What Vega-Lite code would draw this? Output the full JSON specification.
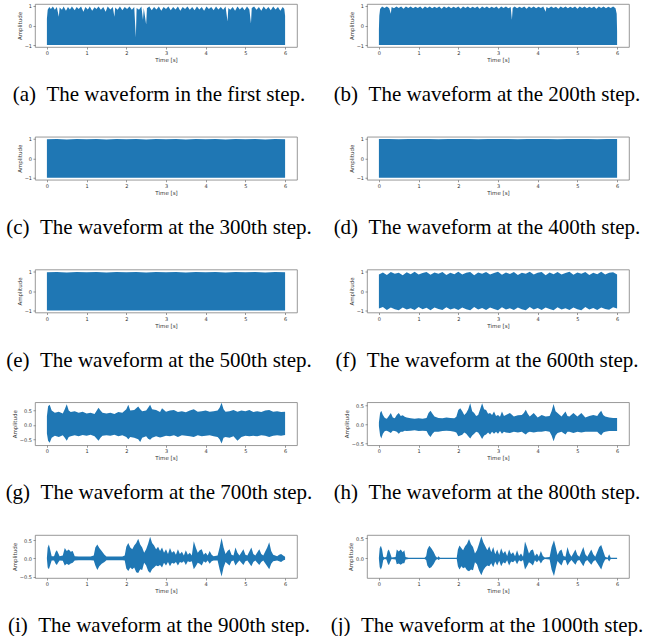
{
"$schema":"https://vega.github.io/schema/vega-lite/v6.json",
"padding":{"left":5,"top":3,"right":0,"bottom":0},
"background":"white",
"config":{
 "view":{"stroke":"#7f7f7f","strokeWidth":0.8},
 "axis":{"labelFontSize":5,"titleFontSize":5.5,"labelColor":"#333","titleColor":"#333","tickColor":"#555","tickSize":2,"tickWidth":0.6,"domain":false,"grid":false,"labelFont":"DejaVu Sans","titleFont":"DejaVu Sans","titleFontWeight":"normal","labelPadding":1.5,"titlePadding":2},
 "title":{"font":"Liberation Serif","fontSize":21,"fontWeight":"normal","color":"#000","orient":"bottom","frame":"group","anchor":"middle","offset":21,"limit":0},
 "area":{"color":"#1f77b4","strokeWidth":0,"clip":true}
},
"datasets":{"w":[
{"p":"a","t":0,"hi":0.35,"lo":-1},{"p":"a","t":0.02,"hi":0.8,"lo":-1},{"p":"a","t":0.06,"hi":0.95,"lo":-1},{"p":"a","t":0.1,"hi":0.85,"lo":-1},{"p":"a","t":0.15,"hi":0.97,"lo":-1},{"p":"a","t":0.2,"hi":0.8,"lo":-1},{"p":"a","t":0.25,"hi":0.95,"lo":-1},{"p":"a","t":0.3,"hi":0.45,"lo":-1},{"p":"a","t":0.32,"hi":0.92,"lo":-1},{"p":"a","t":0.38,"hi":0.8,"lo":-1},{"p":"a","t":0.42,"hi":0.97,"lo":-1},{"p":"a","t":0.48,"hi":0.75,"lo":-1},{"p":"a","t":0.53,"hi":0.95,"lo":-1},{"p":"a","t":0.58,"hi":0.82,"lo":-1},{"p":"a","t":0.63,"hi":0.97,"lo":-1},{"p":"a","t":0.7,"hi":0.78,"lo":-1},{"p":"a","t":0.75,"hi":0.95,"lo":-1},{"p":"a","t":0.8,"hi":0.85,"lo":-1},{"p":"a","t":0.86,"hi":0.97,"lo":-1},{"p":"a","t":0.92,"hi":0.7,"lo":-1},{"p":"a","t":0.97,"hi":0.95,"lo":-1},{"p":"a","t":1.03,"hi":0.82,"lo":-1},{"p":"a","t":1.08,"hi":0.97,"lo":-1},{"p":"a","t":1.14,"hi":0.75,"lo":-1},{"p":"a","t":1.2,"hi":0.93,"lo":-1},{"p":"a","t":1.25,"hi":0.85,"lo":-1},{"p":"a","t":1.3,"hi":0.97,"lo":-1},{"p":"a","t":1.36,"hi":0.8,"lo":-1},{"p":"a","t":1.42,"hi":0.95,"lo":-1},{"p":"a","t":1.48,"hi":0.7,"lo":-1},{"p":"a","t":1.53,"hi":0.97,"lo":-1},{"p":"a","t":1.6,"hi":0.82,"lo":-1},{"p":"a","t":1.66,"hi":0.95,"lo":-1},{"p":"a","t":1.7,"hi":0.45,"lo":-1},{"p":"a","t":1.72,"hi":0.92,"lo":-1},{"p":"a","t":1.78,"hi":0.8,"lo":-1},{"p":"a","t":1.84,"hi":0.97,"lo":-1},{"p":"a","t":1.9,"hi":0.78,"lo":-1},{"p":"a","t":1.96,"hi":0.95,"lo":-1},{"p":"a","t":2.02,"hi":0.85,"lo":-1},{"p":"a","t":2.08,"hi":0.97,"lo":-1},{"p":"a","t":2.14,"hi":0.8,"lo":-1},{"p":"a","t":2.2,"hi":0.95,"lo":-1},{"p":"a","t":2.24,"hi":-0.6,"lo":-1},{"p":"a","t":2.26,"hi":0.9,"lo":-1},{"p":"a","t":2.32,"hi":0.8,"lo":-1},{"p":"a","t":2.38,"hi":0.97,"lo":-1},{"p":"a","t":2.42,"hi":0.3,"lo":-1},{"p":"a","t":2.44,"hi":0.9,"lo":-1},{"p":"a","t":2.5,"hi":0.05,"lo":-1},{"p":"a","t":2.52,"hi":0.88,"lo":-1},{"p":"a","t":2.58,"hi":0.97,"lo":-1},{"p":"a","t":2.64,"hi":0.78,"lo":-1},{"p":"a","t":2.7,"hi":0.95,"lo":-1},{"p":"a","t":2.76,"hi":0.82,"lo":-1},{"p":"a","t":2.82,"hi":0.97,"lo":-1},{"p":"a","t":2.88,"hi":0.75,"lo":-1},{"p":"a","t":2.94,"hi":0.95,"lo":-1},{"p":"a","t":3.0,"hi":0.85,"lo":-1},{"p":"a","t":3.06,"hi":0.97,"lo":-1},{"p":"a","t":3.12,"hi":0.78,"lo":-1},{"p":"a","t":3.18,"hi":0.95,"lo":-1},{"p":"a","t":3.24,"hi":0.82,"lo":-1},{"p":"a","t":3.3,"hi":0.97,"lo":-1},{"p":"a","t":3.36,"hi":0.75,"lo":-1},{"p":"a","t":3.42,"hi":0.95,"lo":-1},{"p":"a","t":3.48,"hi":0.85,"lo":-1},{"p":"a","t":3.54,"hi":0.97,"lo":-1},{"p":"a","t":3.6,"hi":0.8,"lo":-1},{"p":"a","t":3.66,"hi":0.95,"lo":-1},{"p":"a","t":3.72,"hi":0.78,"lo":-1},{"p":"a","t":3.78,"hi":0.97,"lo":-1},{"p":"a","t":3.84,"hi":0.82,"lo":-1},{"p":"a","t":3.9,"hi":0.95,"lo":-1},{"p":"a","t":3.96,"hi":0.75,"lo":-1},{"p":"a","t":4.02,"hi":0.97,"lo":-1},{"p":"a","t":4.08,"hi":0.85,"lo":-1},{"p":"a","t":4.14,"hi":0.95,"lo":-1},{"p":"a","t":4.2,"hi":0.78,"lo":-1},{"p":"a","t":4.26,"hi":0.97,"lo":-1},{"p":"a","t":4.32,"hi":0.82,"lo":-1},{"p":"a","t":4.38,"hi":0.95,"lo":-1},{"p":"a","t":4.44,"hi":0.8,"lo":-1},{"p":"a","t":4.5,"hi":0.97,"lo":-1},{"p":"a","t":4.55,"hi":0.2,"lo":-1},{"p":"a","t":4.57,"hi":0.9,"lo":-1},{"p":"a","t":4.62,"hi":0.8,"lo":-1},{"p":"a","t":4.68,"hi":0.95,"lo":-1},{"p":"a","t":4.74,"hi":0.75,"lo":-1},{"p":"a","t":4.8,"hi":0.97,"lo":-1},{"p":"a","t":4.86,"hi":0.82,"lo":-1},{"p":"a","t":4.92,"hi":0.95,"lo":-1},{"p":"a","t":4.98,"hi":0.78,"lo":-1},{"p":"a","t":5.04,"hi":0.97,"lo":-1},{"p":"a","t":5.1,"hi":0.82,"lo":-1},{"p":"a","t":5.14,"hi":0.1,"lo":-1},{"p":"a","t":5.16,"hi":0.9,"lo":-1},{"p":"a","t":5.22,"hi":0.97,"lo":-1},{"p":"a","t":5.28,"hi":0.8,"lo":-1},{"p":"a","t":5.34,"hi":0.95,"lo":-1},{"p":"a","t":5.4,"hi":0.75,"lo":-1},{"p":"a","t":5.46,"hi":0.97,"lo":-1},{"p":"a","t":5.52,"hi":0.82,"lo":-1},{"p":"a","t":5.58,"hi":0.95,"lo":-1},{"p":"a","t":5.64,"hi":0.78,"lo":-1},{"p":"a","t":5.7,"hi":0.97,"lo":-1},{"p":"a","t":5.76,"hi":0.82,"lo":-1},{"p":"a","t":5.82,"hi":0.95,"lo":-1},{"p":"a","t":5.88,"hi":0.75,"lo":-1},{"p":"a","t":5.94,"hi":0.95,"lo":-1},{"p":"a","t":5.98,"hi":0.85,"lo":-1},{"p":"a","t":6.0,"hi":0.5,"lo":-1},
{"p":"b","t":0,"hi":-0.2,"lo":-1},{"p":"b","t":0.01,"hi":0.5,"lo":-1},{"p":"b","t":0.03,"hi":0.85,"lo":-1},{"p":"b","t":0.08,"hi":0.97,"lo":-1},{"p":"b","t":0.14,"hi":0.9,"lo":-1},{"p":"b","t":0.2,"hi":0.97,"lo":-1},{"p":"b","t":0.26,"hi":0.88,"lo":-1},{"p":"b","t":0.3,"hi":0.6,"lo":-1},{"p":"b","t":0.32,"hi":0.95,"lo":-1},{"p":"b","t":0.38,"hi":0.88,"lo":-1},{"p":"b","t":0.44,"hi":0.97,"lo":-1},{"p":"b","t":0.5,"hi":0.9,"lo":-1},{"p":"b","t":0.56,"hi":0.97,"lo":-1},{"p":"b","t":0.62,"hi":0.86,"lo":-1},{"p":"b","t":0.68,"hi":0.97,"lo":-1},{"p":"b","t":0.74,"hi":0.9,"lo":-1},{"p":"b","t":0.8,"hi":0.97,"lo":-1},{"p":"b","t":0.86,"hi":0.88,"lo":-1},{"p":"b","t":0.92,"hi":0.96,"lo":-1},{"p":"b","t":0.98,"hi":0.9,"lo":-1},{"p":"b","t":1.04,"hi":0.97,"lo":-1},{"p":"b","t":1.1,"hi":0.86,"lo":-1},{"p":"b","t":1.16,"hi":0.97,"lo":-1},{"p":"b","t":1.22,"hi":0.9,"lo":-1},{"p":"b","t":1.28,"hi":0.97,"lo":-1},{"p":"b","t":1.34,"hi":0.88,"lo":-1},{"p":"b","t":1.4,"hi":0.96,"lo":-1},{"p":"b","t":1.46,"hi":0.9,"lo":-1},{"p":"b","t":1.52,"hi":0.97,"lo":-1},{"p":"b","t":1.58,"hi":0.86,"lo":-1},{"p":"b","t":1.64,"hi":0.97,"lo":-1},{"p":"b","t":1.7,"hi":0.9,"lo":-1},{"p":"b","t":1.76,"hi":0.97,"lo":-1},{"p":"b","t":1.82,"hi":0.88,"lo":-1},{"p":"b","t":1.88,"hi":0.96,"lo":-1},{"p":"b","t":1.94,"hi":0.9,"lo":-1},{"p":"b","t":2.0,"hi":0.97,"lo":-1},{"p":"b","t":2.06,"hi":0.86,"lo":-1},{"p":"b","t":2.12,"hi":0.97,"lo":-1},{"p":"b","t":2.18,"hi":0.9,"lo":-1},{"p":"b","t":2.24,"hi":0.97,"lo":-1},{"p":"b","t":2.3,"hi":0.88,"lo":-1},{"p":"b","t":2.36,"hi":0.96,"lo":-1},{"p":"b","t":2.42,"hi":0.9,"lo":-1},{"p":"b","t":2.48,"hi":0.97,"lo":-1},{"p":"b","t":2.54,"hi":0.86,"lo":-1},{"p":"b","t":2.6,"hi":0.97,"lo":-1},{"p":"b","t":2.66,"hi":0.9,"lo":-1},{"p":"b","t":2.72,"hi":0.97,"lo":-1},{"p":"b","t":2.78,"hi":0.88,"lo":-1},{"p":"b","t":2.84,"hi":0.96,"lo":-1},{"p":"b","t":2.9,"hi":0.9,"lo":-1},{"p":"b","t":2.96,"hi":0.97,"lo":-1},{"p":"b","t":3.02,"hi":0.86,"lo":-1},{"p":"b","t":3.08,"hi":0.97,"lo":-1},{"p":"b","t":3.14,"hi":0.9,"lo":-1},{"p":"b","t":3.2,"hi":0.97,"lo":-1},{"p":"b","t":3.26,"hi":0.88,"lo":-1},{"p":"b","t":3.32,"hi":0.95,"lo":-1},{"p":"b","t":3.35,"hi":0.3,"lo":-1},{"p":"b","t":3.37,"hi":0.9,"lo":-1},{"p":"b","t":3.42,"hi":0.97,"lo":-1},{"p":"b","t":3.48,"hi":0.88,"lo":-1},{"p":"b","t":3.54,"hi":0.96,"lo":-1},{"p":"b","t":3.6,"hi":0.9,"lo":-1},{"p":"b","t":3.66,"hi":0.97,"lo":-1},{"p":"b","t":3.72,"hi":0.86,"lo":-1},{"p":"b","t":3.78,"hi":0.97,"lo":-1},{"p":"b","t":3.84,"hi":0.9,"lo":-1},{"p":"b","t":3.9,"hi":0.97,"lo":-1},{"p":"b","t":3.96,"hi":0.88,"lo":-1},{"p":"b","t":4.02,"hi":0.96,"lo":-1},{"p":"b","t":4.08,"hi":0.9,"lo":-1},{"p":"b","t":4.14,"hi":0.97,"lo":-1},{"p":"b","t":4.2,"hi":0.7,"lo":-1},{"p":"b","t":4.22,"hi":0.95,"lo":-1},{"p":"b","t":4.28,"hi":0.88,"lo":-1},{"p":"b","t":4.34,"hi":0.97,"lo":-1},{"p":"b","t":4.4,"hi":0.9,"lo":-1},{"p":"b","t":4.46,"hi":0.96,"lo":-1},{"p":"b","t":4.52,"hi":0.86,"lo":-1},{"p":"b","t":4.58,"hi":0.97,"lo":-1},{"p":"b","t":4.64,"hi":0.9,"lo":-1},{"p":"b","t":4.7,"hi":0.97,"lo":-1},{"p":"b","t":4.76,"hi":0.88,"lo":-1},{"p":"b","t":4.82,"hi":0.96,"lo":-1},{"p":"b","t":4.88,"hi":0.9,"lo":-1},{"p":"b","t":4.94,"hi":0.97,"lo":-1},{"p":"b","t":5.0,"hi":0.86,"lo":-1},{"p":"b","t":5.06,"hi":0.97,"lo":-1},{"p":"b","t":5.12,"hi":0.9,"lo":-1},{"p":"b","t":5.18,"hi":0.97,"lo":-1},{"p":"b","t":5.24,"hi":0.88,"lo":-1},{"p":"b","t":5.3,"hi":0.96,"lo":-1},{"p":"b","t":5.36,"hi":0.9,"lo":-1},{"p":"b","t":5.42,"hi":0.97,"lo":-1},{"p":"b","t":5.48,"hi":0.86,"lo":-1},{"p":"b","t":5.54,"hi":0.97,"lo":-1},{"p":"b","t":5.6,"hi":0.9,"lo":-1},{"p":"b","t":5.66,"hi":0.97,"lo":-1},{"p":"b","t":5.72,"hi":0.88,"lo":-1},{"p":"b","t":5.78,"hi":0.96,"lo":-1},{"p":"b","t":5.84,"hi":0.9,"lo":-1},{"p":"b","t":5.9,"hi":0.97,"lo":-1},{"p":"b","t":5.96,"hi":0.88,"lo":-1},{"p":"b","t":5.99,"hi":0.6,"lo":-1},{"p":"b","t":6.0,"hi":-0.3,"lo":-1},
{"p":"c","t":0,"hi":0.97,"lo":-1},{"p":"c","t":0.25,"hi":0.98,"lo":-1},{"p":"c","t":0.5,"hi":0.96,"lo":-1},{"p":"c","t":0.75,"hi":0.98,"lo":-1},{"p":"c","t":1.0,"hi":0.97,"lo":-1},{"p":"c","t":1.25,"hi":0.98,"lo":-1},{"p":"c","t":1.5,"hi":0.96,"lo":-1},{"p":"c","t":1.75,"hi":0.98,"lo":-1},{"p":"c","t":2.0,"hi":0.97,"lo":-1},{"p":"c","t":2.25,"hi":0.98,"lo":-1},{"p":"c","t":2.5,"hi":0.96,"lo":-1},{"p":"c","t":2.75,"hi":0.98,"lo":-1},{"p":"c","t":3.0,"hi":0.97,"lo":-1},{"p":"c","t":3.25,"hi":0.98,"lo":-1},{"p":"c","t":3.5,"hi":0.96,"lo":-1},{"p":"c","t":3.75,"hi":0.98,"lo":-1},{"p":"c","t":4.0,"hi":0.97,"lo":-1},{"p":"c","t":4.25,"hi":0.98,"lo":-1},{"p":"c","t":4.5,"hi":0.96,"lo":-1},{"p":"c","t":4.75,"hi":0.98,"lo":-1},{"p":"c","t":5.0,"hi":0.97,"lo":-1},{"p":"c","t":5.25,"hi":0.98,"lo":-1},{"p":"c","t":5.5,"hi":0.96,"lo":-1},{"p":"c","t":5.75,"hi":0.98,"lo":-1},{"p":"c","t":6.0,"hi":0.97,"lo":-1},
{"p":"d","t":0,"hi":0.98,"lo":-1},{"p":"d","t":0.25,"hi":0.99,"lo":-1},{"p":"d","t":0.5,"hi":0.97,"lo":-1},{"p":"d","t":0.75,"hi":0.99,"lo":-1},{"p":"d","t":1.0,"hi":0.98,"lo":-1},{"p":"d","t":1.25,"hi":0.99,"lo":-1},{"p":"d","t":1.5,"hi":0.97,"lo":-1},{"p":"d","t":1.75,"hi":0.99,"lo":-1},{"p":"d","t":2.0,"hi":0.98,"lo":-1},{"p":"d","t":2.25,"hi":0.99,"lo":-1},{"p":"d","t":2.5,"hi":0.97,"lo":-1},{"p":"d","t":2.75,"hi":0.99,"lo":-1},{"p":"d","t":3.0,"hi":0.98,"lo":-1},{"p":"d","t":3.25,"hi":0.99,"lo":-1},{"p":"d","t":3.5,"hi":0.97,"lo":-1},{"p":"d","t":3.75,"hi":0.99,"lo":-1},{"p":"d","t":4.0,"hi":0.98,"lo":-1},{"p":"d","t":4.25,"hi":0.99,"lo":-1},{"p":"d","t":4.5,"hi":0.97,"lo":-1},{"p":"d","t":4.75,"hi":0.99,"lo":-1},{"p":"d","t":5.0,"hi":0.98,"lo":-1},{"p":"d","t":5.25,"hi":0.99,"lo":-1},{"p":"d","t":5.5,"hi":0.97,"lo":-1},{"p":"d","t":5.75,"hi":0.99,"lo":-1},{"p":"d","t":6.0,"hi":0.98,"lo":-1},
{"p":"e","t":0,"hi":0.96,"lo":-1},{"p":"e","t":0.25,"hi":0.97,"lo":-1},{"p":"e","t":0.5,"hi":0.95,"lo":-1},{"p":"e","t":0.75,"hi":0.97,"lo":-1},{"p":"e","t":1.0,"hi":0.96,"lo":-1},{"p":"e","t":1.25,"hi":0.97,"lo":-1},{"p":"e","t":1.5,"hi":0.95,"lo":-1},{"p":"e","t":1.75,"hi":0.97,"lo":-1},{"p":"e","t":2.0,"hi":0.96,"lo":-1},{"p":"e","t":2.25,"hi":0.97,"lo":-1},{"p":"e","t":2.5,"hi":0.95,"lo":-1},{"p":"e","t":2.75,"hi":0.97,"lo":-1},{"p":"e","t":3.0,"hi":0.96,"lo":-1},{"p":"e","t":3.25,"hi":0.97,"lo":-1},{"p":"e","t":3.5,"hi":0.95,"lo":-1},{"p":"e","t":3.75,"hi":0.97,"lo":-1},{"p":"e","t":4.0,"hi":0.96,"lo":-1},{"p":"e","t":4.25,"hi":0.97,"lo":-1},{"p":"e","t":4.5,"hi":0.95,"lo":-1},{"p":"e","t":4.75,"hi":0.97,"lo":-1},{"p":"e","t":5.0,"hi":0.96,"lo":-1},{"p":"e","t":5.25,"hi":0.97,"lo":-1},{"p":"e","t":5.5,"hi":0.95,"lo":-1},{"p":"e","t":5.75,"hi":0.97,"lo":-1},{"p":"e","t":6.0,"hi":0.96,"lo":-1},
{"p":"f","t":0,"hi":0.85,"lo":-0.9},{"p":"f","t":0.1,"hi":0.95,"lo":-0.82},{"p":"f","t":0.2,"hi":0.82,"lo":-0.97},{"p":"f","t":0.3,"hi":0.97,"lo":-0.85},{"p":"f","t":0.4,"hi":0.88,"lo":-0.93},{"p":"f","t":0.5,"hi":0.93,"lo":-0.98},{"p":"f","t":0.6,"hi":0.8,"lo":-0.84},{"p":"f","t":0.7,"hi":0.96,"lo":-0.95},{"p":"f","t":0.8,"hi":0.86,"lo":-0.88},{"p":"f","t":0.9,"hi":0.98,"lo":-0.97},{"p":"f","t":1.0,"hi":0.84,"lo":-0.82},{"p":"f","t":1.1,"hi":0.92,"lo":-0.94},{"p":"f","t":1.2,"hi":0.97,"lo":-0.86},{"p":"f","t":1.3,"hi":0.83,"lo":-0.98},{"p":"f","t":1.4,"hi":0.95,"lo":-0.85},{"p":"f","t":1.5,"hi":0.88,"lo":-0.92},{"p":"f","t":1.6,"hi":0.97,"lo":-0.97},{"p":"f","t":1.7,"hi":0.82,"lo":-0.83},{"p":"f","t":1.8,"hi":0.94,"lo":-0.95},{"p":"f","t":1.9,"hi":0.86,"lo":-0.88},{"p":"f","t":2.0,"hi":0.98,"lo":-0.97},{"p":"f","t":2.1,"hi":0.85,"lo":-0.84},{"p":"f","t":2.2,"hi":0.93,"lo":-0.93},{"p":"f","t":2.3,"hi":0.97,"lo":-0.98},{"p":"f","t":2.4,"hi":0.81,"lo":-0.82},{"p":"f","t":2.5,"hi":0.95,"lo":-0.95},{"p":"f","t":2.6,"hi":0.88,"lo":-0.87},{"p":"f","t":2.7,"hi":0.97,"lo":-0.97},{"p":"f","t":2.8,"hi":0.84,"lo":-0.85},{"p":"f","t":2.9,"hi":0.92,"lo":-0.92},{"p":"f","t":3.0,"hi":0.98,"lo":-0.98},{"p":"f","t":3.1,"hi":0.83,"lo":-0.83},{"p":"f","t":3.2,"hi":0.95,"lo":-0.95},{"p":"f","t":3.3,"hi":0.87,"lo":-0.88},{"p":"f","t":3.4,"hi":0.97,"lo":-0.97},{"p":"f","t":3.5,"hi":0.82,"lo":-0.84},{"p":"f","t":3.6,"hi":0.94,"lo":-0.93},{"p":"f","t":3.7,"hi":0.88,"lo":-0.98},{"p":"f","t":3.8,"hi":0.98,"lo":-0.82},{"p":"f","t":3.9,"hi":0.85,"lo":-0.95},{"p":"f","t":4.0,"hi":0.93,"lo":-0.87},{"p":"f","t":4.1,"hi":0.97,"lo":-0.97},{"p":"f","t":4.2,"hi":0.8,"lo":-0.85},{"p":"f","t":4.3,"hi":0.95,"lo":-0.92},{"p":"f","t":4.4,"hi":0.86,"lo":-0.98},{"p":"f","t":4.5,"hi":0.97,"lo":-0.83},{"p":"f","t":4.6,"hi":0.84,"lo":-0.95},{"p":"f","t":4.7,"hi":0.92,"lo":-0.88},{"p":"f","t":4.8,"hi":0.98,"lo":-0.97},{"p":"f","t":4.9,"hi":0.83,"lo":-0.84},{"p":"f","t":5.0,"hi":0.95,"lo":-0.93},{"p":"f","t":5.1,"hi":0.88,"lo":-0.98},{"p":"f","t":5.2,"hi":0.97,"lo":-0.82},{"p":"f","t":5.3,"hi":0.82,"lo":-0.95},{"p":"f","t":5.4,"hi":0.94,"lo":-0.87},{"p":"f","t":5.5,"hi":0.86,"lo":-0.97},{"p":"f","t":5.6,"hi":0.98,"lo":-0.85},{"p":"f","t":5.7,"hi":0.85,"lo":-0.92},{"p":"f","t":5.8,"hi":0.93,"lo":-0.96},{"p":"f","t":5.9,"hi":0.96,"lo":-0.83},{"p":"f","t":6.0,"hi":0.84,"lo":-0.9},
{"p":"g","t":0,"hi":0.3,"lo":-0.3},{"p":"g","t":0.03,"hi":0.65,"lo":-0.55},{"p":"g","t":0.07,"hi":0.7,"lo":-0.62},{"p":"g","t":0.12,"hi":0.5,"lo":-0.45},{"p":"g","t":0.2,"hi":0.42,"lo":-0.38},{"p":"g","t":0.3,"hi":0.46,"lo":-0.42},{"p":"g","t":0.4,"hi":0.4,"lo":-0.36},{"p":"g","t":0.45,"hi":0.55,"lo":-0.45},{"p":"g","t":0.5,"hi":0.72,"lo":-0.55},{"p":"g","t":0.55,"hi":0.5,"lo":-0.42},{"p":"g","t":0.6,"hi":0.45,"lo":-0.4},{"p":"g","t":0.7,"hi":0.48,"lo":-0.36},{"p":"g","t":0.8,"hi":0.42,"lo":-0.4},{"p":"g","t":0.9,"hi":0.46,"lo":-0.35},{"p":"g","t":1.0,"hi":0.4,"lo":-0.38},{"p":"g","t":1.1,"hi":0.42,"lo":-0.34},{"p":"g","t":1.2,"hi":0.38,"lo":-0.4},{"p":"g","t":1.3,"hi":0.6,"lo":-0.55},{"p":"g","t":1.35,"hi":0.5,"lo":-0.45},{"p":"g","t":1.4,"hi":0.42,"lo":-0.38},{"p":"g","t":1.5,"hi":0.4,"lo":-0.36},{"p":"g","t":1.6,"hi":0.42,"lo":-0.38},{"p":"g","t":1.7,"hi":0.38,"lo":-0.34},{"p":"g","t":1.8,"hi":0.45,"lo":-0.4},{"p":"g","t":1.9,"hi":0.42,"lo":-0.36},{"p":"g","t":2.0,"hi":0.55,"lo":-0.42},{"p":"g","t":2.05,"hi":0.7,"lo":-0.5},{"p":"g","t":2.1,"hi":0.5,"lo":-0.42},{"p":"g","t":2.2,"hi":0.52,"lo":-0.45},{"p":"g","t":2.3,"hi":0.64,"lo":-0.5},{"p":"g","t":2.35,"hi":0.55,"lo":-0.6},{"p":"g","t":2.4,"hi":0.48,"lo":-0.45},{"p":"g","t":2.5,"hi":0.5,"lo":-0.4},{"p":"g","t":2.55,"hi":0.6,"lo":-0.48},{"p":"g","t":2.6,"hi":0.7,"lo":-0.52},{"p":"g","t":2.65,"hi":0.55,"lo":-0.45},{"p":"g","t":2.75,"hi":0.52,"lo":-0.4},{"p":"g","t":2.85,"hi":0.45,"lo":-0.44},{"p":"g","t":2.9,"hi":0.58,"lo":-0.42},{"p":"g","t":3.0,"hi":0.46,"lo":-0.38},{"p":"g","t":3.1,"hi":0.5,"lo":-0.4},{"p":"g","t":3.2,"hi":0.52,"lo":-0.36},{"p":"g","t":3.3,"hi":0.45,"lo":-0.42},{"p":"g","t":3.4,"hi":0.48,"lo":-0.36},{"p":"g","t":3.5,"hi":0.44,"lo":-0.38},{"p":"g","t":3.6,"hi":0.5,"lo":-0.4},{"p":"g","t":3.7,"hi":0.55,"lo":-0.42},{"p":"g","t":3.8,"hi":0.46,"lo":-0.36},{"p":"g","t":3.9,"hi":0.48,"lo":-0.4},{"p":"g","t":4.0,"hi":0.5,"lo":-0.38},{"p":"g","t":4.1,"hi":0.46,"lo":-0.36},{"p":"g","t":4.2,"hi":0.48,"lo":-0.4},{"p":"g","t":4.3,"hi":0.5,"lo":-0.42},{"p":"g","t":4.35,"hi":0.6,"lo":-0.5},{"p":"g","t":4.4,"hi":0.77,"lo":-0.65},{"p":"g","t":4.45,"hi":0.55,"lo":-0.45},{"p":"g","t":4.5,"hi":0.46,"lo":-0.42},{"p":"g","t":4.6,"hi":0.48,"lo":-0.45},{"p":"g","t":4.7,"hi":0.52,"lo":-0.4},{"p":"g","t":4.8,"hi":0.46,"lo":-0.55},{"p":"g","t":4.9,"hi":0.5,"lo":-0.42},{"p":"g","t":5.0,"hi":0.48,"lo":-0.38},{"p":"g","t":5.1,"hi":0.52,"lo":-0.4},{"p":"g","t":5.2,"hi":0.45,"lo":-0.38},{"p":"g","t":5.3,"hi":0.48,"lo":-0.4},{"p":"g","t":5.4,"hi":0.45,"lo":-0.36},{"p":"g","t":5.5,"hi":0.5,"lo":-0.38},{"p":"g","t":5.6,"hi":0.52,"lo":-0.42},{"p":"g","t":5.7,"hi":0.46,"lo":-0.38},{"p":"g","t":5.8,"hi":0.48,"lo":-0.36},{"p":"g","t":5.9,"hi":0.45,"lo":-0.38},{"p":"g","t":6.0,"hi":0.46,"lo":-0.35},
{"p":"h","t":0,"hi":0.05,"lo":-0.05},{"p":"h","t":0.03,"hi":0.3,"lo":-0.3},{"p":"h","t":0.06,"hi":0.36,"lo":-0.38},{"p":"h","t":0.1,"hi":0.25,"lo":-0.25},{"p":"h","t":0.15,"hi":0.17,"lo":-0.18},{"p":"h","t":0.2,"hi":0.15,"lo":-0.17},{"p":"h","t":0.25,"hi":0.22,"lo":-0.2},{"p":"h","t":0.3,"hi":0.3,"lo":-0.23},{"p":"h","t":0.35,"hi":0.18,"lo":-0.17},{"p":"h","t":0.4,"hi":0.16,"lo":-0.18},{"p":"h","t":0.45,"hi":0.25,"lo":-0.2},{"p":"h","t":0.5,"hi":0.3,"lo":-0.25},{"p":"h","t":0.55,"hi":0.22,"lo":-0.2},{"p":"h","t":0.6,"hi":0.24,"lo":-0.2},{"p":"h","t":0.65,"hi":0.2,"lo":-0.17},{"p":"h","t":0.7,"hi":0.18,"lo":-0.18},{"p":"h","t":0.8,"hi":0.16,"lo":-0.17},{"p":"h","t":0.9,"hi":0.15,"lo":-0.16},{"p":"h","t":1.0,"hi":0.16,"lo":-0.18},{"p":"h","t":1.1,"hi":0.15,"lo":-0.17},{"p":"h","t":1.2,"hi":0.17,"lo":-0.18},{"p":"h","t":1.25,"hi":0.3,"lo":-0.28},{"p":"h","t":1.3,"hi":0.36,"lo":-0.34},{"p":"h","t":1.35,"hi":0.28,"lo":-0.25},{"p":"h","t":1.4,"hi":0.21,"lo":-0.2},{"p":"h","t":1.5,"hi":0.17,"lo":-0.2},{"p":"h","t":1.6,"hi":0.16,"lo":-0.18},{"p":"h","t":1.7,"hi":0.18,"lo":-0.17},{"p":"h","t":1.8,"hi":0.17,"lo":-0.18},{"p":"h","t":1.9,"hi":0.16,"lo":-0.2},{"p":"h","t":1.95,"hi":0.2,"lo":-0.22},{"p":"h","t":2.0,"hi":0.38,"lo":-0.32},{"p":"h","t":2.05,"hi":0.43,"lo":-0.3},{"p":"h","t":2.1,"hi":0.35,"lo":-0.28},{"p":"h","t":2.15,"hi":0.25,"lo":-0.22},{"p":"h","t":2.2,"hi":0.3,"lo":-0.25},{"p":"h","t":2.25,"hi":0.4,"lo":-0.32},{"p":"h","t":2.3,"hi":0.56,"lo":-0.38},{"p":"h","t":2.35,"hi":0.35,"lo":-0.3},{"p":"h","t":2.4,"hi":0.3,"lo":-0.25},{"p":"h","t":2.45,"hi":0.22,"lo":-0.2},{"p":"h","t":2.5,"hi":0.25,"lo":-0.22},{"p":"h","t":2.55,"hi":0.4,"lo":-0.3},{"p":"h","t":2.6,"hi":0.56,"lo":-0.39},{"p":"h","t":2.65,"hi":0.4,"lo":-0.3},{"p":"h","t":2.7,"hi":0.38,"lo":-0.27},{"p":"h","t":2.75,"hi":0.28,"lo":-0.22},{"p":"h","t":2.8,"hi":0.3,"lo":-0.27},{"p":"h","t":2.85,"hi":0.25,"lo":-0.2},{"p":"h","t":2.9,"hi":0.34,"lo":-0.25},{"p":"h","t":2.95,"hi":0.22,"lo":-0.2},{"p":"h","t":3.0,"hi":0.25,"lo":-0.25},{"p":"h","t":3.05,"hi":0.2,"lo":-0.18},{"p":"h","t":3.1,"hi":0.34,"lo":-0.25},{"p":"h","t":3.15,"hi":0.22,"lo":-0.2},{"p":"h","t":3.2,"hi":0.25,"lo":-0.22},{"p":"h","t":3.3,"hi":0.3,"lo":-0.23},{"p":"h","t":3.4,"hi":0.21,"lo":-0.2},{"p":"h","t":3.5,"hi":0.24,"lo":-0.22},{"p":"h","t":3.6,"hi":0.25,"lo":-0.2},{"p":"h","t":3.65,"hi":0.3,"lo":-0.24},{"p":"h","t":3.7,"hi":0.39,"lo":-0.27},{"p":"h","t":3.75,"hi":0.28,"lo":-0.22},{"p":"h","t":3.8,"hi":0.21,"lo":-0.2},{"p":"h","t":3.9,"hi":0.3,"lo":-0.22},{"p":"h","t":4.0,"hi":0.18,"lo":-0.2},{"p":"h","t":4.1,"hi":0.25,"lo":-0.2},{"p":"h","t":4.2,"hi":0.21,"lo":-0.18},{"p":"h","t":4.3,"hi":0.22,"lo":-0.2},{"p":"h","t":4.35,"hi":0.35,"lo":-0.3},{"p":"h","t":4.4,"hi":0.54,"lo":-0.45},{"p":"h","t":4.45,"hi":0.35,"lo":-0.3},{"p":"h","t":4.5,"hi":0.3,"lo":-0.23},{"p":"h","t":4.6,"hi":0.21,"lo":-0.2},{"p":"h","t":4.7,"hi":0.34,"lo":-0.27},{"p":"h","t":4.75,"hi":0.22,"lo":-0.2},{"p":"h","t":4.8,"hi":0.21,"lo":-0.2},{"p":"h","t":4.9,"hi":0.3,"lo":-0.23},{"p":"h","t":5.0,"hi":0.21,"lo":-0.2},{"p":"h","t":5.1,"hi":0.3,"lo":-0.22},{"p":"h","t":5.2,"hi":0.18,"lo":-0.2},{"p":"h","t":5.3,"hi":0.22,"lo":-0.2},{"p":"h","t":5.4,"hi":0.25,"lo":-0.2},{"p":"h","t":5.5,"hi":0.22,"lo":-0.2},{"p":"h","t":5.55,"hi":0.3,"lo":-0.25},{"p":"h","t":5.6,"hi":0.36,"lo":-0.29},{"p":"h","t":5.65,"hi":0.25,"lo":-0.22},{"p":"h","t":5.7,"hi":0.21,"lo":-0.2},{"p":"h","t":5.8,"hi":0.18,"lo":-0.18},{"p":"h","t":5.9,"hi":0.17,"lo":-0.18},{"p":"h","t":6.0,"hi":0.17,"lo":-0.18},
{"p":"i","t":0,"hi":0.02,"lo":-0.02},{"p":"i","t":0.02,"hi":0.3,"lo":-0.25},{"p":"i","t":0.05,"hi":0.38,"lo":-0.3},{"p":"i","t":0.08,"hi":0.25,"lo":-0.2},{"p":"i","t":0.12,"hi":0.06,"lo":-0.06},{"p":"i","t":0.18,"hi":0.06,"lo":-0.06},{"p":"i","t":0.22,"hi":0.18,"lo":-0.15},{"p":"i","t":0.25,"hi":0.22,"lo":-0.18},{"p":"i","t":0.28,"hi":0.15,"lo":-0.12},{"p":"i","t":0.32,"hi":0.06,"lo":-0.06},{"p":"i","t":0.4,"hi":0.08,"lo":-0.07},{"p":"i","t":0.45,"hi":0.28,"lo":-0.2},{"p":"i","t":0.5,"hi":0.2,"lo":-0.15},{"p":"i","t":0.55,"hi":0.24,"lo":-0.18},{"p":"i","t":0.6,"hi":0.18,"lo":-0.14},{"p":"i","t":0.65,"hi":0.2,"lo":-0.12},{"p":"i","t":0.7,"hi":0.06,"lo":-0.06},{"p":"i","t":0.8,"hi":0.05,"lo":-0.05},{"p":"i","t":0.9,"hi":0.05,"lo":-0.05},{"p":"i","t":1.0,"hi":0.05,"lo":-0.05},{"p":"i","t":1.1,"hi":0.05,"lo":-0.05},{"p":"i","t":1.18,"hi":0.08,"lo":-0.06},{"p":"i","t":1.22,"hi":0.3,"lo":-0.2},{"p":"i","t":1.27,"hi":0.38,"lo":-0.32},{"p":"i","t":1.32,"hi":0.28,"lo":-0.22},{"p":"i","t":1.38,"hi":0.2,"lo":-0.15},{"p":"i","t":1.45,"hi":0.1,"lo":-0.1},{"p":"i","t":1.5,"hi":0.05,"lo":-0.05},{"p":"i","t":1.6,"hi":0.05,"lo":-0.05},{"p":"i","t":1.7,"hi":0.05,"lo":-0.05},{"p":"i","t":1.8,"hi":0.05,"lo":-0.05},{"p":"i","t":1.9,"hi":0.05,"lo":-0.05},{"p":"i","t":1.96,"hi":0.08,"lo":-0.06},{"p":"i","t":2.0,"hi":0.32,"lo":-0.28},{"p":"i","t":2.05,"hi":0.42,"lo":-0.35},{"p":"i","t":2.1,"hi":0.3,"lo":-0.25},{"p":"i","t":2.15,"hi":0.25,"lo":-0.3},{"p":"i","t":2.2,"hi":0.35,"lo":-0.25},{"p":"i","t":2.25,"hi":0.42,"lo":-0.38},{"p":"i","t":2.3,"hi":0.54,"lo":-0.4},{"p":"i","t":2.35,"hi":0.38,"lo":-0.3},{"p":"i","t":2.4,"hi":0.3,"lo":-0.32},{"p":"i","t":2.45,"hi":0.15,"lo":-0.12},{"p":"i","t":2.5,"hi":0.25,"lo":-0.2},{"p":"i","t":2.55,"hi":0.4,"lo":-0.35},{"p":"i","t":2.6,"hi":0.59,"lo":-0.4},{"p":"i","t":2.65,"hi":0.42,"lo":-0.3},{"p":"i","t":2.7,"hi":0.35,"lo":-0.25},{"p":"i","t":2.75,"hi":0.25,"lo":-0.2},{"p":"i","t":2.8,"hi":0.32,"lo":-0.22},{"p":"i","t":2.85,"hi":0.2,"lo":-0.18},{"p":"i","t":2.9,"hi":0.3,"lo":-0.25},{"p":"i","t":2.95,"hi":0.15,"lo":-0.12},{"p":"i","t":3.0,"hi":0.25,"lo":-0.2},{"p":"i","t":3.05,"hi":0.12,"lo":-0.1},{"p":"i","t":3.1,"hi":0.28,"lo":-0.22},{"p":"i","t":3.15,"hi":0.15,"lo":-0.12},{"p":"i","t":3.2,"hi":0.2,"lo":-0.15},{"p":"i","t":3.25,"hi":0.1,"lo":-0.1},{"p":"i","t":3.3,"hi":0.25,"lo":-0.2},{"p":"i","t":3.35,"hi":0.12,"lo":-0.1},{"p":"i","t":3.4,"hi":0.18,"lo":-0.12},{"p":"i","t":3.45,"hi":0.08,"lo":-0.08},{"p":"i","t":3.5,"hi":0.22,"lo":-0.18},{"p":"i","t":3.55,"hi":0.1,"lo":-0.08},{"p":"i","t":3.6,"hi":0.15,"lo":-0.1},{"p":"i","t":3.65,"hi":0.08,"lo":-0.08},{"p":"i","t":3.7,"hi":0.47,"lo":-0.3},{"p":"i","t":3.75,"hi":0.3,"lo":-0.22},{"p":"i","t":3.8,"hi":0.15,"lo":-0.12},{"p":"i","t":3.85,"hi":0.22,"lo":-0.15},{"p":"i","t":3.9,"hi":0.25,"lo":-0.2},{"p":"i","t":3.95,"hi":0.1,"lo":-0.08},{"p":"i","t":4.0,"hi":0.15,"lo":-0.12},{"p":"i","t":4.05,"hi":0.08,"lo":-0.06},{"p":"i","t":4.1,"hi":0.2,"lo":-0.15},{"p":"i","t":4.15,"hi":0.1,"lo":-0.08},{"p":"i","t":4.2,"hi":0.06,"lo":-0.06},{"p":"i","t":4.3,"hi":0.08,"lo":-0.06},{"p":"i","t":4.35,"hi":0.3,"lo":-0.3},{"p":"i","t":4.4,"hi":0.56,"lo":-0.5},{"p":"i","t":4.45,"hi":0.3,"lo":-0.25},{"p":"i","t":4.5,"hi":0.12,"lo":-0.1},{"p":"i","t":4.55,"hi":0.2,"lo":-0.15},{"p":"i","t":4.6,"hi":0.25,"lo":-0.2},{"p":"i","t":4.65,"hi":0.1,"lo":-0.08},{"p":"i","t":4.7,"hi":0.08,"lo":-0.06},{"p":"i","t":4.75,"hi":0.3,"lo":-0.2},{"p":"i","t":4.8,"hi":0.15,"lo":-0.12},{"p":"i","t":4.85,"hi":0.08,"lo":-0.06},{"p":"i","t":4.95,"hi":0.25,"lo":-0.18},{"p":"i","t":5.0,"hi":0.1,"lo":-0.08},{"p":"i","t":5.05,"hi":0.08,"lo":-0.06},{"p":"i","t":5.15,"hi":0.3,"lo":-0.22},{"p":"i","t":5.2,"hi":0.12,"lo":-0.1},{"p":"i","t":5.25,"hi":0.08,"lo":-0.06},{"p":"i","t":5.35,"hi":0.25,"lo":-0.18},{"p":"i","t":5.4,"hi":0.12,"lo":-0.1},{"p":"i","t":5.45,"hi":0.08,"lo":-0.06},{"p":"i","t":5.55,"hi":0.3,"lo":-0.22},{"p":"i","t":5.6,"hi":0.44,"lo":-0.3},{"p":"i","t":5.65,"hi":0.2,"lo":-0.15},{"p":"i","t":5.7,"hi":0.1,"lo":-0.08},{"p":"i","t":5.8,"hi":0.06,"lo":-0.06},{"p":"i","t":5.85,"hi":0.1,"lo":-0.08},{"p":"i","t":5.9,"hi":0.12,"lo":-0.1},{"p":"i","t":5.95,"hi":0.08,"lo":-0.06},{"p":"i","t":6.0,"hi":0.04,"lo":-0.04},
{"p":"j","t":0,"hi":0.02,"lo":-0.02},{"p":"j","t":0.02,"hi":0.25,"lo":-0.22},{"p":"j","t":0.05,"hi":0.31,"lo":-0.28},{"p":"j","t":0.08,"hi":0.22,"lo":-0.2},{"p":"j","t":0.11,"hi":0.04,"lo":-0.04},{"p":"j","t":0.15,"hi":0.02,"lo":-0.02},{"p":"j","t":0.19,"hi":0.04,"lo":-0.03},{"p":"j","t":0.22,"hi":0.18,"lo":-0.12},{"p":"j","t":0.25,"hi":0.22,"lo":-0.17},{"p":"j","t":0.28,"hi":0.14,"lo":-0.1},{"p":"j","t":0.32,"hi":0.02,"lo":-0.02},{"p":"j","t":0.42,"hi":0.03,"lo":-0.03},{"p":"j","t":0.45,"hi":0.22,"lo":-0.15},{"p":"j","t":0.5,"hi":0.17,"lo":-0.13},{"p":"j","t":0.55,"hi":0.22,"lo":-0.16},{"p":"j","t":0.6,"hi":0.15,"lo":-0.12},{"p":"j","t":0.64,"hi":0.2,"lo":-0.12},{"p":"j","t":0.67,"hi":0.03,"lo":-0.03},{"p":"j","t":0.75,"hi":0.015,"lo":-0.015},{"p":"j","t":1.15,"hi":0.015,"lo":-0.015},{"p":"j","t":1.19,"hi":0.05,"lo":-0.04},{"p":"j","t":1.22,"hi":0.22,"lo":-0.18},{"p":"j","t":1.27,"hi":0.31,"lo":-0.25},{"p":"j","t":1.32,"hi":0.25,"lo":-0.22},{"p":"j","t":1.38,"hi":0.16,"lo":-0.14},{"p":"j","t":1.43,"hi":0.05,"lo":-0.05},{"p":"j","t":1.47,"hi":0.015,"lo":-0.015},{"p":"j","t":1.5,"hi":0.05,"lo":-0.04},{"p":"j","t":1.54,"hi":0.015,"lo":-0.015},{"p":"j","t":1.96,"hi":0.015,"lo":-0.015},{"p":"j","t":1.99,"hi":0.22,"lo":-0.2},{"p":"j","t":2.03,"hi":0.32,"lo":-0.28},{"p":"j","t":2.08,"hi":0.25,"lo":-0.2},{"p":"j","t":2.12,"hi":0.2,"lo":-0.25},{"p":"j","t":2.17,"hi":0.3,"lo":-0.22},{"p":"j","t":2.22,"hi":0.36,"lo":-0.3},{"p":"j","t":2.27,"hi":0.48,"lo":-0.32},{"p":"j","t":2.32,"hi":0.35,"lo":-0.28},{"p":"j","t":2.37,"hi":0.28,"lo":-0.3},{"p":"j","t":2.42,"hi":0.12,"lo":-0.1},{"p":"j","t":2.47,"hi":0.2,"lo":-0.15},{"p":"j","t":2.52,"hi":0.35,"lo":-0.3},{"p":"j","t":2.58,"hi":0.55,"lo":-0.42},{"p":"j","t":2.63,"hi":0.4,"lo":-0.3},{"p":"j","t":2.68,"hi":0.3,"lo":-0.22},{"p":"j","t":2.73,"hi":0.2,"lo":-0.18},{"p":"j","t":2.78,"hi":0.3,"lo":-0.2},{"p":"j","t":2.83,"hi":0.15,"lo":-0.12},{"p":"j","t":2.88,"hi":0.28,"lo":-0.22},{"p":"j","t":2.93,"hi":0.1,"lo":-0.08},{"p":"j","t":2.98,"hi":0.22,"lo":-0.18},{"p":"j","t":3.03,"hi":0.08,"lo":-0.06},{"p":"j","t":3.08,"hi":0.25,"lo":-0.2},{"p":"j","t":3.13,"hi":0.12,"lo":-0.1},{"p":"j","t":3.18,"hi":0.18,"lo":-0.13},{"p":"j","t":3.23,"hi":0.06,"lo":-0.05},{"p":"j","t":3.28,"hi":0.22,"lo":-0.18},{"p":"j","t":3.33,"hi":0.1,"lo":-0.08},{"p":"j","t":3.38,"hi":0.15,"lo":-0.1},{"p":"j","t":3.43,"hi":0.05,"lo":-0.05},{"p":"j","t":3.48,"hi":0.2,"lo":-0.15},{"p":"j","t":3.53,"hi":0.06,"lo":-0.05},{"p":"j","t":3.58,"hi":0.12,"lo":-0.08},{"p":"j","t":3.63,"hi":0.04,"lo":-0.04},{"p":"j","t":3.68,"hi":0.42,"lo":-0.28},{"p":"j","t":3.73,"hi":0.28,"lo":-0.2},{"p":"j","t":3.78,"hi":0.12,"lo":-0.1},{"p":"j","t":3.83,"hi":0.2,"lo":-0.13},{"p":"j","t":3.88,"hi":0.22,"lo":-0.18},{"p":"j","t":3.93,"hi":0.06,"lo":-0.05},{"p":"j","t":3.98,"hi":0.12,"lo":-0.1},{"p":"j","t":4.03,"hi":0.04,"lo":-0.04},{"p":"j","t":4.08,"hi":0.18,"lo":-0.13},{"p":"j","t":4.13,"hi":0.06,"lo":-0.05},{"p":"j","t":4.18,"hi":0.02,"lo":-0.02},{"p":"j","t":4.3,"hi":0.03,"lo":-0.03},{"p":"j","t":4.35,"hi":0.28,"lo":-0.28},{"p":"j","t":4.41,"hi":0.45,"lo":-0.44},{"p":"j","t":4.46,"hi":0.25,"lo":-0.22},{"p":"j","t":4.5,"hi":0.08,"lo":-0.07},{"p":"j","t":4.55,"hi":0.18,"lo":-0.13},{"p":"j","t":4.6,"hi":0.22,"lo":-0.18},{"p":"j","t":4.65,"hi":0.06,"lo":-0.05},{"p":"j","t":4.7,"hi":0.04,"lo":-0.04},{"p":"j","t":4.75,"hi":0.28,"lo":-0.18},{"p":"j","t":4.8,"hi":0.12,"lo":-0.1},{"p":"j","t":4.85,"hi":0.04,"lo":-0.04},{"p":"j","t":4.95,"hi":0.22,"lo":-0.16},{"p":"j","t":5.0,"hi":0.08,"lo":-0.06},{"p":"j","t":5.05,"hi":0.04,"lo":-0.04},{"p":"j","t":5.15,"hi":0.28,"lo":-0.2},{"p":"j","t":5.2,"hi":0.1,"lo":-0.08},{"p":"j","t":5.25,"hi":0.04,"lo":-0.04},{"p":"j","t":5.35,"hi":0.22,"lo":-0.16},{"p":"j","t":5.4,"hi":0.1,"lo":-0.08},{"p":"j","t":5.45,"hi":0.04,"lo":-0.04},{"p":"j","t":5.55,"hi":0.28,"lo":-0.2},{"p":"j","t":5.6,"hi":0.33,"lo":-0.28},{"p":"j","t":5.65,"hi":0.18,"lo":-0.13},{"p":"j","t":5.7,"hi":0.04,"lo":-0.03},{"p":"j","t":5.76,"hi":0.015,"lo":-0.015},{"p":"j","t":5.8,"hi":0.1,"lo":-0.08},{"p":"j","t":5.84,"hi":0.015,"lo":-0.015},{"p":"j","t":6.0,"hi":0.015,"lo":-0.015}
]},
"vconcat":[
{"hconcat":[
 {"data":{"name":"w"},"transform":[{"filter":"datum.p=='a'"}],"width":262,"height":43,"title":{"text":"(a)\u2002The waveform in the first step.","dx":-7},"mark":"area","encoding":{"x":{"field":"t","type":"quantitative","scale":{"domain":[-0.3,6.3],"nice":false,"zero":false},"axis":{"values":[0,1,2,3,4,5,6],"format":"d","title":"Time [s]"}},"y":{"field":"hi","type":"quantitative","scale":{"domain":[-1.1,1.1],"nice":false,"zero":false},"axis":{"values":[-1,0,1],"format":"d","title":"Amplitude"}},"y2":{"field":"lo"}}},
 {"data":{"name":"w"},"transform":[{"filter":"datum.p=='b'"}],"width":262,"height":43,"title":{"text":"(b)\u2002The waveform at the 200th step.","dx":-11},"mark":"area","encoding":{"x":{"field":"t","type":"quantitative","scale":{"domain":[-0.3,6.3],"nice":false,"zero":false},"axis":{"values":[0,1,2,3,4,5,6],"format":"d","title":"Time [s]"}},"y":{"field":"hi","type":"quantitative","scale":{"domain":[-1.1,1.1],"nice":false,"zero":false},"axis":{"values":[-1,0,1],"format":"d","title":"Amplitude"}},"y2":{"field":"lo"}}}
],"spacing":70,"bounds":"flush"},
{"hconcat":[
 {"data":{"name":"w"},"transform":[{"filter":"datum.p=='c'"}],"width":262,"height":43,"title":{"text":"(c)\u2002The waveform at the 300th step.","dx":-7},"mark":"area","encoding":{"x":{"field":"t","type":"quantitative","scale":{"domain":[-0.3,6.3],"nice":false,"zero":false},"axis":{"values":[0,1,2,3,4,5,6],"format":"d","title":"Time [s]"}},"y":{"field":"hi","type":"quantitative","scale":{"domain":[-1.1,1.1],"nice":false,"zero":false},"axis":{"values":[-1,0,1],"format":"d","title":"Amplitude"}},"y2":{"field":"lo"}}},
 {"data":{"name":"w"},"transform":[{"filter":"datum.p=='d'"}],"width":262,"height":43,"title":{"text":"(d)\u2002The waveform at the 400th step.","dx":-11},"mark":"area","encoding":{"x":{"field":"t","type":"quantitative","scale":{"domain":[-0.3,6.3],"nice":false,"zero":false},"axis":{"values":[0,1,2,3,4,5,6],"format":"d","title":"Time [s]"}},"y":{"field":"hi","type":"quantitative","scale":{"domain":[-1.1,1.1],"nice":false,"zero":false},"axis":{"values":[-1,0,1],"format":"d","title":"Amplitude"}},"y2":{"field":"lo"}}}
],"spacing":70,"bounds":"flush"},
{"hconcat":[
 {"data":{"name":"w"},"transform":[{"filter":"datum.p=='e'"}],"width":262,"height":43,"title":{"text":"(e)\u2002The waveform at the 500th step.","dx":-7},"mark":"area","encoding":{"x":{"field":"t","type":"quantitative","scale":{"domain":[-0.3,6.3],"nice":false,"zero":false},"axis":{"values":[0,1,2,3,4,5,6],"format":"d","title":"Time [s]"}},"y":{"field":"hi","type":"quantitative","scale":{"domain":[-1.1,1.1],"nice":false,"zero":false},"axis":{"values":[-1,0,1],"format":"d","title":"Amplitude"}},"y2":{"field":"lo"}}},
 {"data":{"name":"w"},"transform":[{"filter":"datum.p=='f'"}],"width":262,"height":43,"title":{"text":"(f)\u2002The waveform at the 600th step.","dx":-11},"mark":"area","encoding":{"x":{"field":"t","type":"quantitative","scale":{"domain":[-0.3,6.3],"nice":false,"zero":false},"axis":{"values":[0,1,2,3,4,5,6],"format":"d","title":"Time [s]"}},"y":{"field":"hi","type":"quantitative","scale":{"domain":[-1.1,1.1],"nice":false,"zero":false},"axis":{"values":[-1,0,1],"format":"d","title":"Amplitude"}},"y2":{"field":"lo"}}}
],"spacing":70,"bounds":"flush"},
{"hconcat":[
 {"data":{"name":"w"},"transform":[{"filter":"datum.p=='g'"}],"width":262,"height":43,"title":{"text":"(g)\u2002The waveform at the 700th step.","dx":-7},"mark":"area","encoding":{"x":{"field":"t","type":"quantitative","scale":{"domain":[-0.3,6.3],"nice":false,"zero":false},"axis":{"values":[0,1,2,3,4,5,6],"format":"d","title":"Time [s]"}},"y":{"field":"hi","type":"quantitative","scale":{"domain":[-0.71,0.79],"nice":false,"zero":false},"axis":{"values":[-0.5,0,0.5],"format":".1f","title":"Amplitude"}},"y2":{"field":"lo"}}},
 {"data":{"name":"w"},"transform":[{"filter":"datum.p=='h'"}],"width":262,"height":43,"title":{"text":"(h)\u2002The waveform at the 800th step.","dx":-11},"mark":"area","encoding":{"x":{"field":"t","type":"quantitative","scale":{"domain":[-0.3,6.3],"nice":false,"zero":false},"axis":{"values":[0,1,2,3,4,5,6],"format":"d","title":"Time [s]"}},"y":{"field":"hi","type":"quantitative","scale":{"domain":[-0.56,0.59],"nice":false,"zero":false},"axis":{"values":[-0.5,0,0.5],"format":".1f","title":"Amplitude"}},"y2":{"field":"lo"}}}
],"spacing":70,"bounds":"flush"},
{"hconcat":[
 {"data":{"name":"w"},"transform":[{"filter":"datum.p=='i'"}],"width":262,"height":43,"title":{"text":"(i)\u2002The waveform at the 900th step.","dx":-7},"mark":"area","encoding":{"x":{"field":"t","type":"quantitative","scale":{"domain":[-0.3,6.3],"nice":false,"zero":false},"axis":{"values":[0,1,2,3,4,5,6],"format":"d","title":"Time [s]"}},"y":{"field":"hi","type":"quantitative","scale":{"domain":[-0.54,0.64],"nice":false,"zero":false},"axis":{"values":[-0.5,0,0.5],"format":".1f","title":"Amplitude"}},"y2":{"field":"lo"}}},
 {"data":{"name":"w"},"transform":[{"filter":"datum.p=='j'"}],"width":262,"height":43,"title":{"text":"(j)\u2002The waveform at the 1000th step.","dx":-11},"mark":"area","encoding":{"x":{"field":"t","type":"quantitative","scale":{"domain":[-0.3,6.3],"nice":false,"zero":false},"axis":{"values":[0,1,2,3,4,5,6],"format":"d","title":"Time [s]"}},"y":{"field":"hi","type":"quantitative","scale":{"domain":[-0.49,0.58],"nice":false,"zero":false},"axis":{"values":[0,0.5],"format":".1f","title":"Amplitude"}},"y2":{"field":"lo"}}}
],"spacing":70,"bounds":"flush"}
],
"spacing":132.75,"bounds":"flush"
}
